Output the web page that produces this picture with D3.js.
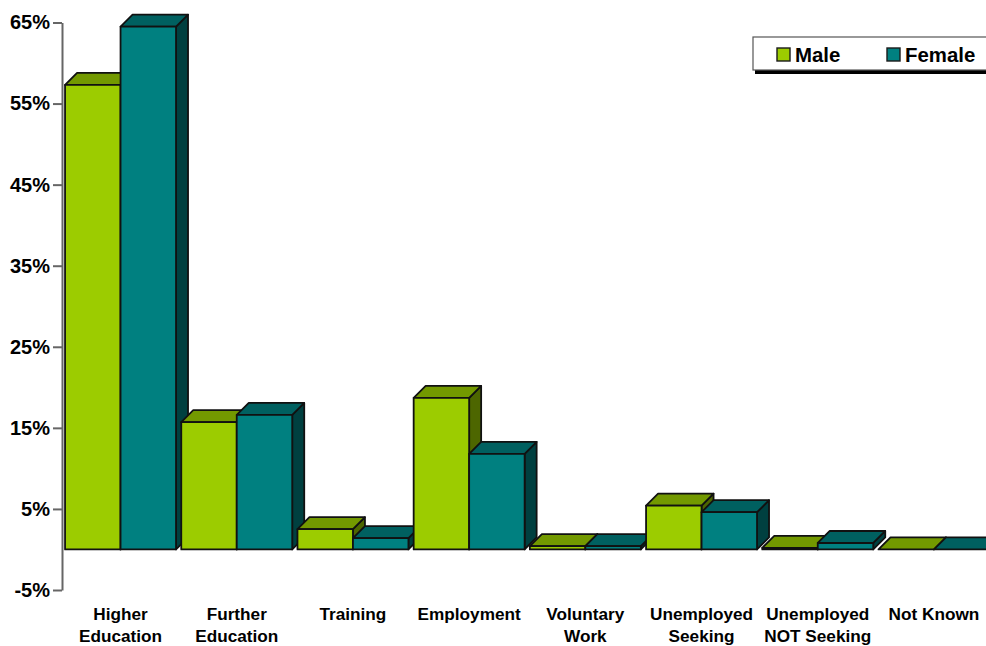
<!DOCTYPE html>
<html>
<head>
<meta charset="utf-8">
<script src="https://cdn.jsdelivr.net/npm/d3@7"></script>
<style>
html, body { margin: 0; padding: 0; background: #fff; overflow: hidden; }
svg { display: block; }
text { font-family: "Liberation Sans", Arial, sans-serif; font-weight: bold; fill: #000; }
</style>
</head>
<body>
<svg width="986" height="646"></svg>
<script>
/**Data**/
var categories = ["Higher Education", "Further Education", "Training", "Employment", "Voluntary Work", "Unemployed Seeking", "Unemployed NOT Seeking", "Not Known"];
var categoryLines = [["Higher", "Education"], ["Further", "Education"], ["Training"], ["Employment"], ["Voluntary", "Work"], ["Unemployed", "Seeking"], ["Unemployed", "NOT Seeking"], ["Not Known"]];
var seriesNames = ["Male", "Female"];
var maleValues = [57.3, 15.7, 2.5, 18.7, 0.4, 5.4, 0.2, 0];
var femaleValues = [64.5, 16.6, 1.4, 11.8, 0.4, 4.6, 0.8, 0];
var yTicks = [-5, 5, 15, 25, 35, 45, 55, 65];

var seriesValues = [maleValues, femaleValues];
var front = ["#9ccc00", "#008080"];
var top3d = ["#739900", "#006060"];
var side3d = ["#4d6600", "#004040"];
var depth = 12;

var svg = d3.select("svg");

//Scales
var y = d3.scaleLinear().domain([-5, 65]).range([590, 22.5]);
var x = d3.scaleBand().domain(categories).range([62.5, 992]).paddingInner(0.045).paddingOuter(0.022);
var xInner = d3.scaleBand().domain(seriesNames).range([0, x.bandwidth()]);

//Y axis
var yAxis = svg.append("g")
	.attr("transform", "translate(62,0)")
	.call(d3.axisLeft(y).tickValues(yTicks).tickSize(9).tickSizeOuter(0).tickPadding(3).tickFormat(function(d) { return d + "%"; }));
yAxis.select(".domain").attr("stroke", "#666").attr("stroke-width", 2);
yAxis.selectAll(".tick line").attr("stroke", "#666").attr("stroke-width", 2);
yAxis.selectAll(".tick text").attr("font-size", 20).style("font-family", "Liberation Sans").attr("fill", "#000");

//Bars, male first so that female covers its side face
var bars = svg.append("g").attr("stroke", "#111").attr("stroke-width", 1.8).attr("stroke-linejoin", "round");
categories.forEach(function(cat, c) {
	seriesNames.forEach(function(name, s) {
		var x0 = x(cat) + xInner(name);
		var x1 = x0 + xInner.bandwidth();
		var yTop = y(seriesValues[s][c]);
		var yBase = y(0);
		bars.append("path")
			.attr("fill", side3d[s])
			.attr("d", "M" + x1 + "," + yBase + "L" + (x1 + depth) + "," + (yBase - depth) + "L" + (x1 + depth) + "," + (yTop - depth) + "L" + x1 + "," + yTop + "Z");
		bars.append("path")
			.attr("fill", top3d[s])
			.attr("d", "M" + x0 + "," + yTop + "L" + (x0 + depth) + "," + (yTop - depth) + "L" + (x1 + depth) + "," + (yTop - depth) + "L" + x1 + "," + yTop + "Z");
		bars.append("rect")
			.attr("fill", front[s])
			.attr("x", x0)
			.attr("y", yTop)
			.attr("width", x1 - x0)
			.attr("height", yBase - yTop);
	});
});

//Category labels
var xAxis = svg.append("g")
	.attr("transform", "translate(0,598)")
	.call(d3.axisBottom(x).tickSize(0).tickPadding(0));
xAxis.select(".domain").remove();
xAxis.selectAll(".tick text").each(function(d, i) {
	var label = d3.select(this).text(null).attr("font-size", 17.2).attr("y", 22).attr("dy", null).attr("fill", "#000").style("font-family", "Liberation Sans");
	categoryLines[i].forEach(function(line, n) {
		label.append("tspan").attr("x", 0).attr("dy", n == 0 ? 0 : 22).text(line);
	});
});

//Legend, it runs off the right edge
var legend = svg.append("g");
legend.append("rect").attr("x", 755).attr("y", 40).attr("width", 240).attr("height", 34).attr("fill", "#000");
legend.append("rect").attr("x", 753).attr("y", 37).attr("width", 240).attr("height", 33).attr("fill", "#fff").attr("stroke", "#555").attr("stroke-width", 1.2);
var legendX = d3.scaleOrdinal().domain(seriesNames).range([777, 887]);
seriesNames.forEach(function(name, s) {
	legend.append("rect").attr("x", legendX(name)).attr("y", 48).attr("width", 13).attr("height", 13).attr("fill", front[s]).attr("stroke", "#1a1a1a").attr("stroke-width", 1.4);
	legend.append("text").attr("x", legendX(name) + 18).attr("y", 62).attr("font-size", 20.4).text(name);
});
</script>
</body>
</html>
